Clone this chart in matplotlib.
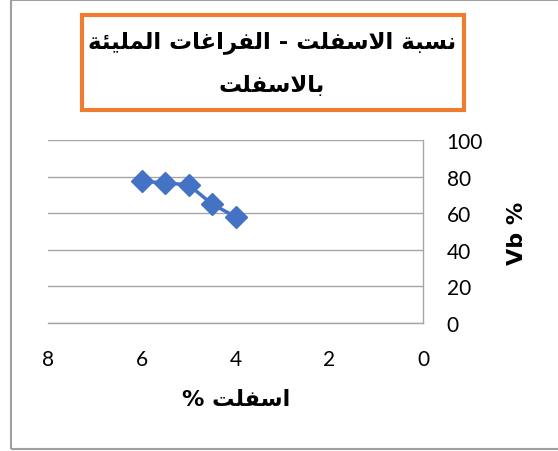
import matplotlib
matplotlib.use("Agg")
import matplotlib.pyplot as plt
from matplotlib.patches import Rectangle

# asphalt content (%) vs. voids filled with bitumen (%)
asphalt_pct = [6.0, 5.5, 5.0, 4.5, 4.0]
vfb_pct = [77.5, 76.5, 75.5, 65.0, 58.0]

x_ticks = [8, 6, 4, 2, 0]
y_ticks = [0, 20, 40, 60, 80, 100]

title_lines = ["نسبة الاسفلت - الفراغات المليئة", "بالاسفلت"]
x_label = "اسفلت %"
y_label = "Vb %"

# contextual forms: (isolated, final, initial, medial); None = joins right only
FORMS = {
    "ا": ("\uFE8D", "\uFE8E", None, None),
    "ب": ("\uFE8F", "\uFE90", "\uFE91", "\uFE92"),
    "ة": ("\uFE93", "\uFE94", None, None),
    "ت": ("\uFE95", "\uFE96", "\uFE97", "\uFE98"),
    "ر": ("\uFEAD", "\uFEAE", None, None),
    "س": ("\uFEB1", "\uFEB2", "\uFEB3", "\uFEB4"),
    "غ": ("\uFECD", "\uFECE", "\uFECF", "\uFED0"),
    "ف": ("\uFED1", "\uFED2", "\uFED3", "\uFED4"),
    "ل": ("\uFEDD", "\uFEDE", "\uFEDF", "\uFEE0"),
    "م": ("\uFEE1", "\uFEE2", "\uFEE3", "\uFEE4"),
    "ن": ("\uFEE5", "\uFEE6", "\uFEE7", "\uFEE8"),
    "ي": ("\uFEF1", "\uFEF2", "\uFEF3", "\uFEF4"),
    "ئ": ("\uFE89", "\uFE8A", "\uFE8B", "\uFE8C"),
}
LAM_ALEF = ("\uFEFB", "\uFEFC")


def dual(ch):
    return ch in FORMS and FORMS[ch][2] is not None


def shape(text):
    """Join Arabic letters and return the string in visual (LTR) order."""
    out = []
    i = 0
    while i < len(text):
        ch = text[i]
        prev = text[i - 1] if i > 0 else ""
        joins_prev = dual(prev)
        if ch == "ل" and i + 1 < len(text) and text[i + 1] == "ا":
            out.append(LAM_ALEF[1] if joins_prev else LAM_ALEF[0])
            i += 2
            continue
        if ch not in FORMS:
            out.append(ch)
            i += 1
            continue
        nxt = text[i + 1] if i + 1 < len(text) else ""
        joins_next = dual(ch) and nxt in FORMS
        iso, fin, ini, med = FORMS[ch]
        if joins_prev and joins_next:
            out.append(med)
        elif joins_prev:
            out.append(fin)
        elif joins_next:
            out.append(ini)
        else:
            out.append(iso)
        i += 1
    return "".join(reversed(out))


W, H = 558, 452
fig = plt.figure(figsize=(W / 100, H / 100), dpi=100)

# outer chart border
fig.add_artist(Rectangle((11 / W, 1 - 450 / H), 1.0, 449 / H, transform=fig.transFigure,
                         fill=False, edgecolor="#a0a0a0", linewidth=1.5))

ax = fig.add_axes([48 / W, 1 - 324 / H, 375 / W, 183 / H])
ax.plot(asphalt_pct, vfb_pct, color="#4472C4", linewidth=2.5,
        marker="D", markersize=11, zorder=3, clip_on=False)
ax.set_xlim(8, 0)
ax.set_ylim(0, 100)
ax.set_xticks(x_ticks)
ax.set_yticks(y_ticks)
ax.yaxis.tick_right()
ax.grid(axis="y", color="#a6a6a6", linewidth=1)
ax.set_axisbelow(True)
for side in ("top", "left"):
    ax.spines[side].set_visible(False)
for side in ("right", "bottom"):
    ax.spines[side].set_color("#a6a6a6")
    ax.spines[side].set_linewidth(1)
ax.tick_params(length=0, labelsize=15)
ax.tick_params(axis="y", pad=17)
ax.tick_params(axis="x", pad=19)
for lbl in ax.get_xticklabels() + ax.get_yticklabels():
    lbl.set_fontfamily("Lato")

fig.text(236 / W, 1 - 400 / H, shape(x_label), ha="center", va="center",
         fontsize=16, fontweight="bold", family=["DejaVu Sans"])
fig.text(517 / W, 1 - 233 / H, y_label, ha="center", va="center", rotation=90,
         fontsize=16, fontweight="bold", family=["DejaVu Sans"])

# title with orange frame
fig.add_artist(Rectangle((82 / W, 1 - 111 / H), 382 / W, 95 / H, transform=fig.transFigure,
                         fill=False, edgecolor="#ED7D31", linewidth=3))
fig.text(272 / W, 1 - 42 / H, shape(title_lines[0]), ha="center", va="center",
         fontsize=16.5, fontweight="bold", family=["DejaVu Sans"])
fig.text(272 / W, 1 - 86 / H, shape(title_lines[1]), ha="center", va="center",
         fontsize=16.5, fontweight="bold", family=["DejaVu Sans"])

fig.savefig("out.png", dpi=100)
